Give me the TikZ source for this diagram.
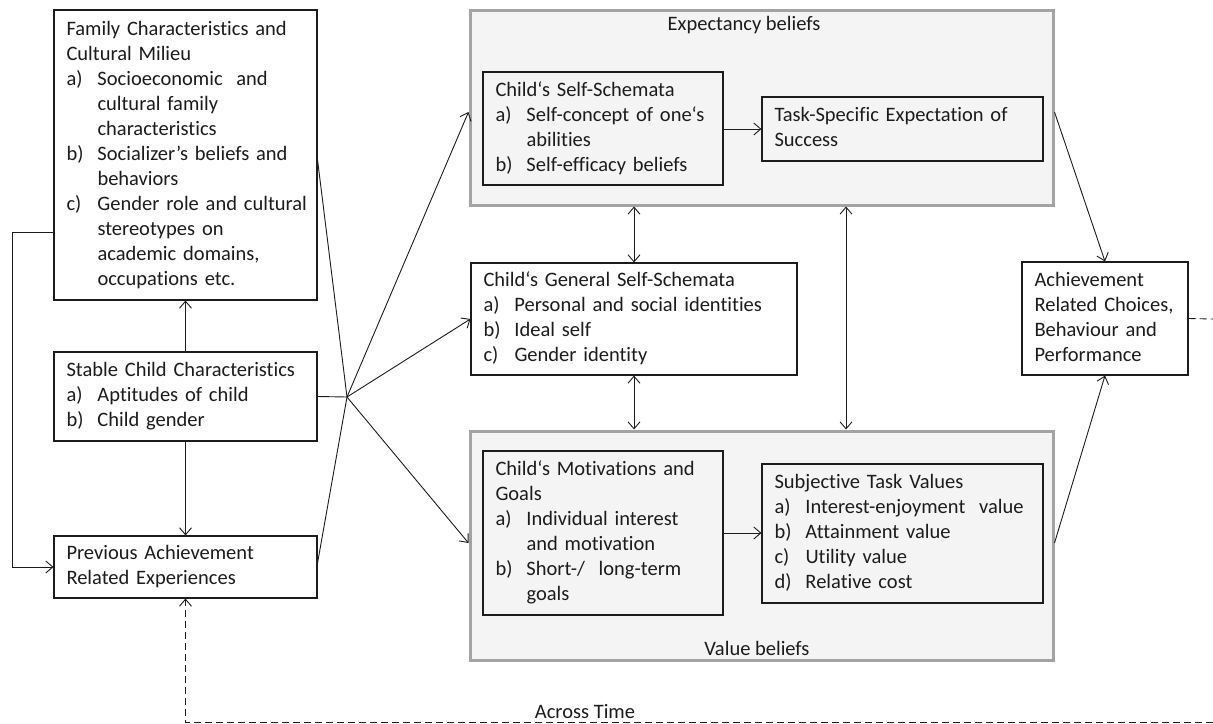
\documentclass[tikz,border=0pt]{standalone}
\usepackage{fontspec}
\setmainfont{Carlito}[Ligatures=NoCommon]
\usetikzlibrary{arrows.meta}
\newcommand{\lab}[1]{\makebox[31pt][l]{#1}}
\newcommand{\cont}{\hspace*{31pt}}
\newcommand{\tb}[1]{\begin{tabular}{@{}l@{}}#1\end{tabular}}
\newcommand{\txtfont}{\fontsize{20.5}{25}\selectfont}
\hfuzz=200pt
\hbadness=10000
\definecolor{ink}{HTML}{1C1C1C}
\definecolor{outerfill}{HTML}{F4F4F4}
\definecolor{outerline}{HTML}{A3A3A3}
\tikzset{
  box/.style={draw=ink, line width=1.1pt, inner xsep=12.5pt, inner ysep=0pt,
    align=left, font=\txtfont, text=ink, anchor=center},
  outerbox/.style={draw=outerline, fill=outerfill, line width=3pt, inner sep=0pt, anchor=center},
  lbl/.style={font=\txtfont, text=ink, inner sep=0pt, anchor=center},
  conn/.style={draw=ink, line width=0.9pt},
  arr/.style={conn, -{Straight Barb[length=7pt,width=12pt]}},
  darr/.style={conn, {Straight Barb[length=7pt,width=12pt]}-{Straight Barb[length=7pt,width=12pt]}},
  dsh/.style={conn, dash pattern=on 7pt off 4pt}
}
\begin{document}
\begin{tikzpicture}[x=1pt,y=-1pt]
\useasboundingbox (0,0) rectangle (1213,723);
\fill[white] (0,0) rectangle (1213,723);

% outer groups
\node[outerbox, minimum width=583, minimum height=195] (exp) at (761.5,107.5) {};
\node[outerbox, minimum width=583, minimum height=229] (val) at (761.5,545.5) {};
\node[lbl] (explab) at (744,25) {Expectancy beliefs};
\node[lbl] (vallab) at (757,648) {Value beliefs};

% left column
\node[box, text width=238, minimum height=290] (fam) at (185.5,155) {\tb{Family Characteristics and\\Cultural Milieu\\\lab{a)}Socioeconomic\ \ and\\\cont cultural family\\\cont characteristics\\\lab{b)}Socializer’s beliefs and\\\cont behaviors\\\lab{c)}Gender role and cultural\\\cont stereotypes on\\\cont academic domains,\\\cont occupations etc.}};
\node[box, text width=238, minimum height=89] (stab) at (185.5,396.5) {\tb{Stable Child Characteristics\\\lab{a)}Aptitudes of child\\\lab{b)}Child gender}};
\node[box, text width=238, minimum height=62] (prev) at (185.5,567) {\tb{Previous Achievement\\Related Experiences}};

% middle
\node[box, text width=215, minimum height=113] (self) at (603,128.5) {\tb{Child‘s Self-Schemata\\\lab{a)}Self-concept of one‘s\\\cont abilities\\\lab{b)}Self-efficacy beliefs}};
\node[box, text width=256, minimum height=64] (task) at (902.5,129) {\tb{Task-Specific Expectation of\\Success}};
\node[box, text width=301, minimum height=112] (gen) at (634,319) {\tb{Child‘s General Self-Schemata\\\lab{a)}Personal and social identities\\\lab{b)}Ideal self\\\lab{c)}Gender identity}};
\node[box, text width=215, minimum height=164] (mot) at (603,533) {\tb{Child‘s Motivations and\\Goals\\\lab{a)}Individual interest\\\cont and motivation\\\lab{b)}Short-/\ \ long-term\\\cont goals}};
\node[box, text width=256, minimum height=139] (subj) at (902.5,533.5) {\tb{Subjective Task Values\\\lab{a)}Interest-enjoyment\ \ value\\\lab{b)}Attainment value\\\lab{c)}Utility value\\\lab{d)}Relative cost}};

% right
\node[box, text width=141, minimum height=113] (ach) at (1105,318.5) {\tb{Achievement\\Related Choices,\\Behaviour and\\Performance}};

% coordinates
\coordinate (hub) at (347,397);
\coordinate (mid) at (846,320);
\coordinate (redge) at (1213,319);
\coordinate (bcorner) at (1213,722);
\node[lbl] (across) at (585,712) {Across Time};

% left connectors
\draw[arr] (stab.north) -- (fam.south);
\draw[arr] (stab.south) -- (prev.north);
\draw[arr] ([yshift=-77pt]fam.west) -- ++(-41,0) |- (prev.west);

% hub
\draw[conn] ([yshift=-5pt]fam.east) -- (hub);
\draw[conn] (stab.east) -- (hub);
\draw[conn] ([yshift=4pt]prev.east) -- (hub);
\draw[arr] (hub) -- ([yshift=-4.5pt]exp.west);
\draw[arr] (hub) -- (gen.west);
\draw[arr] (hub) -- ([yshift=2.5pt]val.west);

% inner arrows
\draw[arr] (self.east |- task.west) -- (task.west);
\draw[arr] (mot.east) -- (mot.east -| subj.west);

% double arrows
\draw[darr] (gen.north |- exp.south) -- (gen.north);
\draw[darr] (gen.south) -- (gen.south |- val.north);
\draw[darr] (mid |- exp.south) -- (mid |- val.north);

% to achievement
\draw[arr] ([yshift=-4.5pt]exp.east) -- (ach.north);
\draw[arr] ([yshift=2.5pt]val.east) -- (ach.south);

% dashed feedback
\draw[dsh] (ach.east) -- (redge);
\draw[dsh, -{Straight Barb[length=7pt,width=12pt]}] (bcorner) -- (bcorner -| prev.south) -- (prev.south);
\end{tikzpicture}
\end{document}
